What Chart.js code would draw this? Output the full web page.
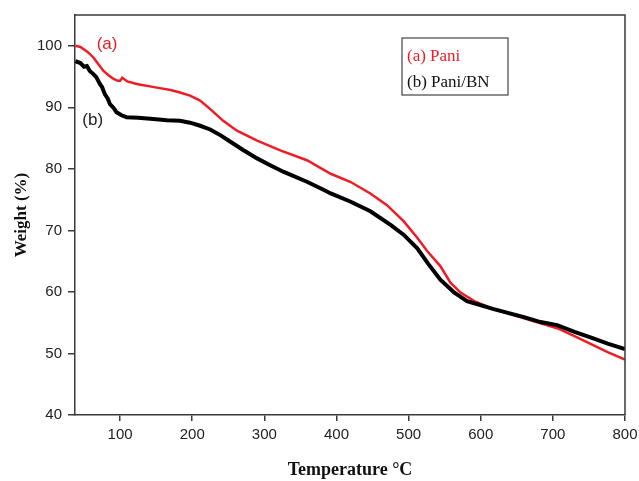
<!DOCTYPE html>
<html>
<head>
<meta charset="utf-8">
<script src="https://cdn.jsdelivr.net/npm/chart.js@4"></script>
<style>
  html, body { margin: 0; padding: 0; background: #fff; }
  #wrap { width: 639px; height: 481px; }
</style>
</head>
<body>
<div id="wrap"><canvas id="tgaChart" width="639" height="481"></canvas></div>
<script>
// (a) Pani
const paniTemp = [38, 45, 55, 63, 70, 77, 84, 91, 97, 100, 103, 110, 123, 151, 170, 183, 197, 211, 225, 243, 262, 290, 322, 359, 392, 419, 447, 470, 493, 512, 526, 544, 558, 572, 591, 618, 660, 683, 706, 730, 776, 800];
const paniWeight = [100, 99.8, 99.0, 98.1, 97.0, 95.9, 95.2, 94.6, 94.3, 94.3, 94.8, 94.2, 93.8, 93.2, 92.8, 92.4, 91.9, 91.1, 89.7, 87.8, 86.2, 84.6, 83.0, 81.4, 79.2, 77.9, 76.0, 74.1, 71.5, 68.8, 66.6, 64.2, 61.5, 59.9, 58.5, 57.2, 55.7, 54.9, 54.1, 52.8, 50.2, 49.0];
// (b) Pani/BN
const bnTemp = [38, 45, 50, 54, 58, 63, 67, 72, 75, 79, 83, 86, 91, 95, 102, 109, 125, 146, 165, 183, 197, 211, 225, 240, 253, 270, 290, 308, 327, 359, 382, 392, 419, 447, 475, 493, 512, 527, 544, 563, 581, 618, 660, 683, 706, 730, 757, 776, 800];
const bnWeight = [97.5, 97.2, 96.6, 96.7, 95.9, 95.4, 94.9, 93.8, 93.3, 92.1, 91.4, 90.5, 89.9, 89.2, 88.7, 88.4, 88.3, 88.1, 87.9, 87.8, 87.5, 87.0, 86.4, 85.4, 84.4, 83.1, 81.7, 80.6, 79.5, 77.9, 76.6, 76.0, 74.7, 73.1, 70.9, 69.3, 67.1, 64.6, 62.0, 59.9, 58.5, 57.2, 55.9, 55.1, 54.6, 53.5, 52.4, 51.6, 50.7];

const xTicks = [100, 200, 300, 400, 500, 600, 700, 800];
const yTicks = [40, 50, 60, 70, 80, 90, 100];
const seriesNames = ['(a) Pani', '(b) Pani/BN'];
const curveTags = ['(a)', '(b)'];

const RED = '#ee1c24';
const INK = '#3a3a3a';
const toPoints = (xs, ys) => xs.map((x, i) => ({ x, y: ys[i] }));

// frame, curve tags and the boxed legend
const decorations = {
  id: 'decorations',
  afterDraw(chart) {
    const { ctx, chartArea: a, scales: { x, y } } = chart;
    ctx.save();
    ctx.strokeStyle = INK;
    ctx.lineWidth = 1.5;
    ctx.beginPath();
    ctx.moveTo(a.left, a.top);
    ctx.lineTo(a.right, a.top);
    ctx.lineTo(a.right, a.bottom);
    ctx.stroke();

    ctx.font = '17px "Liberation Sans", Arial, sans-serif';
    ctx.textAlign = 'center';
    ctx.textBaseline = 'middle';
    ctx.fillStyle = RED;
    ctx.fillText(curveTags[0], x.getPixelForValue(82), y.getPixelForValue(100.2));
    ctx.fillStyle = '#222';
    ctx.fillText(curveTags[1], x.getPixelForValue(62), y.getPixelForValue(87.9));

    const bx = a.left + 327, by = a.top + 23;
    ctx.strokeStyle = '#444';
    ctx.lineWidth = 1.2;
    ctx.strokeRect(bx, by, 106, 57);
    ctx.font = '17px "Liberation Serif", "Times New Roman", serif';
    ctx.textAlign = 'left';
    ctx.fillStyle = RED;
    ctx.fillText(seriesNames[0], bx + 5, by + 19);
    ctx.fillStyle = '#111';
    ctx.fillText(seriesNames[1], bx + 5, by + 45);
    ctx.restore();
  },
};

const tickFont = { family: '"Liberation Sans", Arial, sans-serif', size: 15 };
const titleFont = { family: '"Liberation Serif", "Times New Roman", serif', size: 18, weight: 'bold' };

new Chart(document.getElementById('tgaChart'), {
  type: 'scatter',
  data: {
    datasets: [
      { label: seriesNames[1], data: toPoints(bnTemp, bnWeight), showLine: true, borderColor: '#000', borderWidth: 4, pointRadius: 0, tension: 0 },
      { label: seriesNames[0], data: toPoints(paniTemp, paniWeight), showLine: true, borderColor: RED, borderWidth: 2.5, pointRadius: 0, tension: 0 },
    ],
  },
  options: {
    responsive: false, animation: false,
    layout: { padding: { top: 11, right: 14, left: 0, bottom: 0 } },
    plugins: { legend: { display: false }, tooltip: { enabled: false } },
    scales: {
      x: {
        type: 'linear', min: 37.5, max: 800,
        afterBuildTicks: (s) => { s.ticks = xTicks.map((v) => ({ value: v })); },
        afterFit: (s) => { s.height = 66; s.paddingRight = 0; },
        grid: { drawOnChartArea: false, drawTicks: true, tickLength: 6, color: INK, lineWidth: 1.5 },
        border: { display: true, color: INK, width: 1.5 },
        ticks: { font: tickFont, color: '#222', padding: 5, maxRotation: 0 },
        title: { display: true, text: 'Temperature \u00B0C', font: titleFont, color: '#111', padding: { top: 0, bottom: 0 } },
      },
      y: {
        min: 40, max: 105,
        afterBuildTicks: (s) => { s.ticks = yTicks.map((v) => ({ value: v })); },
        afterFit: (s) => { s.width = 75; },
        grid: { drawOnChartArea: false, drawTicks: true, tickLength: 7, color: INK, lineWidth: 1.5 },
        border: { display: true, color: INK, width: 1.5 },
        ticks: { font: tickFont, color: '#222', padding: 6 },
        title: { display: true, text: 'Weight (%)', font: { ...titleFont, size: 17 }, color: '#111', padding: { top: 11, bottom: 0 } },
      },
    },
  },
  plugins: [decorations],
});
</script>
</body>
</html>
